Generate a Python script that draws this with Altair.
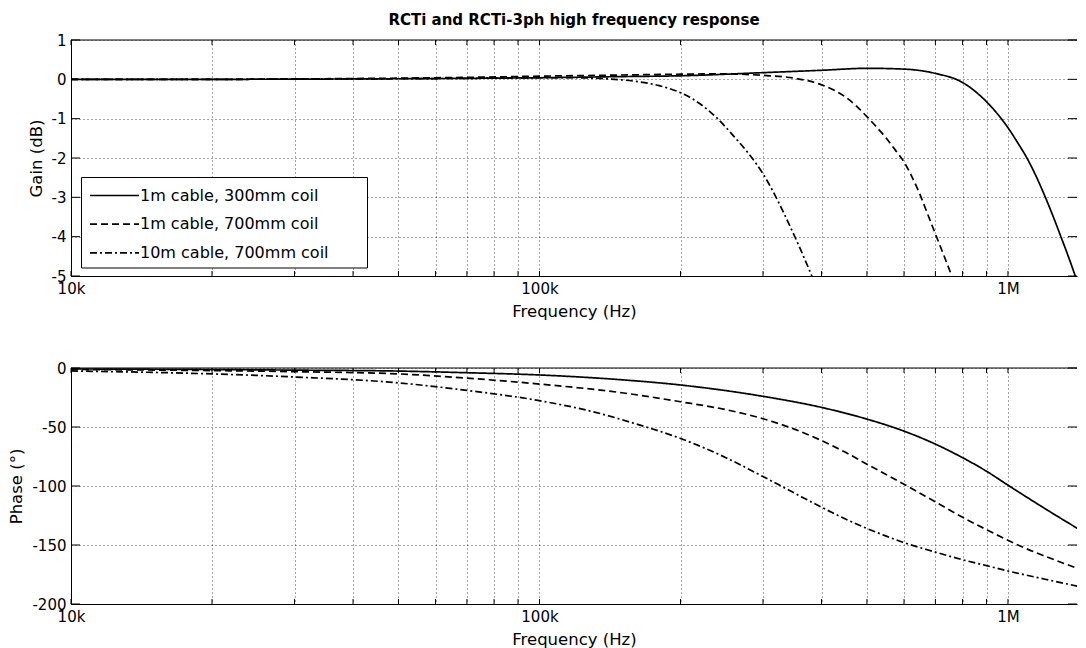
import altair as alt
import pandas as pd

TITLE = "RCTi and RCTi-3ph high frequency response"
SERIES = ["1m cable, 300mm coil", "1m cable, 700mm coil", "10m cable, 700mm coil"]
DASHES = [[1, 0], [7, 4], [7, 3, 2, 3]]

# ---- Gain (dB) ----
g1_f = [1e4, 2e4, 3e4, 5e4, 7e4, 1e5, 1.5e5, 2e5, 3e5, 4e5, 5e5, 6e5, 7e5, 8e5, 9e5,
        9.5e5, 1e6, 1.05e6, 1.1e6, 1.15e6, 1.2e6, 1.25e6, 1.3e6, 1.35e6, 1.394e6]
g1_db = [0, 0, 0.005, 0.015, 0.025, 0.04, 0.07, 0.09, 0.17, 0.23, 0.28, 0.26, 0.15, -0.08, -0.57,
         -0.88, -1.23, -1.62, -2.02, -2.48, -2.98, -3.5, -4.03, -4.55, -5.02]
g2_f = [1e4, 2e4, 3e4, 5e4, 7e4, 1e5, 1.5e5, 2e5, 2.5e5, 3e5, 3.5e5, 4e5, 4.5e5, 4.75e5, 5e5,
        5.25e5, 5.5e5, 5.75e5, 6e5, 6.25e5, 6.5e5, 6.75e5, 7e5, 7.3e5, 7.6e5]
g2_db = [0, 0, 0.01, 0.03, 0.05, 0.08, 0.11, 0.13, 0.14, 0.1, 0.03, -0.14, -0.45, -0.68, -0.95,
         -1.22, -1.5, -1.8, -2.1, -2.5, -2.95, -3.45, -3.93, -4.48, -5.02]
g3_f = [1e4, 2e4, 3e4, 5e4, 7e4, 1e5, 1.2e5, 1.4e5, 1.6e5, 1.8e5, 2e5, 2.2e5, 2.4e5, 2.6e5,
        2.8e5, 3e5, 3.2e5, 3.4e5, 3.6e5, 3.82e5]
g3_db = [0, 0, 0.005, 0.015, 0.025, 0.04, 0.04, 0.01, -0.05, -0.16, -0.34, -0.62, -1.0, -1.45,
         -1.9, -2.4, -3.0, -3.65, -4.3, -5.02]

# ---- Phase (deg) ----
p1_f = [1e4, 2e4, 3e4, 5e4, 7e4, 1e5, 1.5e5, 2e5, 3e5, 4e5, 5e5, 6e5, 7e5, 8e5, 9e5, 1e6,
        1.2e6, 1.47e6]
p1_deg = [-0.8, -1.3, -1.8, -2.6, -4.0, -5.9, -10.0, -14.4, -24.0, -33.4, -43.3, -53.5, -64.5,
          -76.0, -87.5, -99.3, -119.2, -140.5]
p2_f = [1e4, 2e4, 3e4, 5e4, 7e4, 1e5, 1.5e5, 2e5, 2.5e5, 3e5, 3.5e5, 4e5, 4.5e5, 5e5, 6e5,
        7e5, 8e5, 9e5, 1e6, 1.1e6, 1.2e6, 1.47e6]
p2_deg = [-1.2, -2.2, -3.1, -5.0, -8.6, -13.6, -21.0, -28.6, -35.3, -43.0, -51.8, -61.5, -71.5,
          -81.5, -98.5, -113.5, -126.5, -137.0, -146.0, -153.5, -159.5, -172.5]
p3_f = [1e4, 2e4, 3e4, 5e4, 7e4, 1e5, 1.3e5, 1.58e5, 2e5, 2.5e5, 3e5, 3.5e5, 4e5, 4.5e5, 5e5,
        5.5e5, 6e5, 7e5, 8e5, 9e5, 1e6, 1.2e6, 1.47e6]
p3_deg = [-2.5, -5.0, -7.6, -12.6, -19.0, -27.7, -37.0, -46.5, -59.7, -76.0, -92.0, -106.0,
          -118.0, -128.0, -136.0, -142.5, -148.0, -156.0, -162.5, -167.5, -172.0, -179.0, -186.5]

# ---- axes ----
X_DOMAIN = [1e4, 1.404e6]
GRID_X = [1e4, 2e4, 3e4, 4e4, 5e4, 6e4, 7e4, 8e4, 9e4,
          1e5, 2e5, 3e5, 4e5, 5e5, 6e5, 7e5, 8e5, 9e5, 1e6]
X_LABEL_VALUES = [1e4, 1e5, 1e6]
X_LABELS = ["10k", "100k", "1M"]
GAIN_DOMAIN = [-5, 1]
GAIN_TICKS = [-5, -4, -3, -2, -1, 0, 1]
PHASE_DOMAIN = [-200, 0]
PHASE_TICKS = [-200, -150, -100, -50, 0]

W = 1006
H = 236
FONT = "DejaVu Sans"


def series_frame(fs, vs):
    rows = []
    for name, f_list, v_list in zip(SERIES, fs, vs):
        for f, v in zip(f_list, v_list):
            rows.append({"f": f, "v": v, "series": name})
    return pd.DataFrame(rows)


gain_df = series_frame([g1_f, g2_f, g3_f], [g1_db, g2_db, g3_db])
phase_df = series_frame([p1_f, p2_f, p3_f], [p1_deg, p2_deg, p3_deg])

label_expr = ""
for val, lab in zip(X_LABEL_VALUES, X_LABELS):
    label_expr += f"datum.value == {int(val)} ? '{lab}' : "
label_expr += "''"


def panel(df, ydomain, yticks, ytitle, legend, title=None):
    xs = alt.Scale(type="log", domain=X_DOMAIN, nice=False)
    ys = alt.Scale(domain=ydomain, nice=False, zero=False)
    dash_scale = alt.Scale(domain=SERIES, range=DASHES)

    x_axis = alt.Axis(
        title="Frequency (Hz)", values=GRID_X, labelExpr=label_expr,
        grid=True, gridDash=[1, 3], gridColor="#000", gridOpacity=0.7, gridWidth=1,
        ticks=False, domain=True, domainColor="#000", domainWidth=1,
        labelFlush=False, labelOverlap=False, labelPadding=5, labelFontSize=15,
        labelColor="#000", labelFont=FONT,
        titlePadding=7, titleFontSize=16.5, titleFontWeight="normal", titleColor="#000",
        titleFont=FONT,
    )
    y_axis = alt.Axis(
        title=ytitle, values=yticks, labelExpr="'' + datum.value",
        grid=True, gridDash=[1, 3], gridColor="#000", gridOpacity=0.7, gridWidth=1,
        ticks=False, domain=True, domainColor="#000", domainWidth=1,
        labelPadding=5, labelFontSize=15, labelColor="#000", labelFont=FONT,
        labelFlush=False, labelOverlap=False,
        titlePadding=7, titleFontSize=16.5, titleFontWeight="normal", titleColor="#000",
        titleFont=FONT,
    )

    lines = alt.Chart(df).mark_line(
        color="black", strokeWidth=1.7, clip=True, interpolate="monotone"
    ).encode(
        x=alt.X("f:Q", scale=xs, axis=x_axis),
        y=alt.Y("v:Q", scale=ys, axis=y_axis),
        strokeDash=alt.StrokeDash("series:N", scale=dash_scale, legend=legend),
    )

    xt = pd.DataFrame({"f": GRID_X})
    yt = pd.DataFrame({"v": yticks})
    one = pd.DataFrame({"k": [0]})

    top_ticks = alt.Chart(xt).mark_rule(color="black", strokeWidth=1).encode(
        x=alt.X("f:Q", scale=xs, axis=x_axis), y=alt.value(0), y2=alt.value(5))
    bottom_ticks = alt.Chart(xt).mark_rule(color="black", strokeWidth=1).encode(
        x=alt.X("f:Q", scale=xs, axis=x_axis), y=alt.value(H - 5), y2=alt.value(H))
    left_ticks = alt.Chart(yt).mark_rule(color="black", strokeWidth=1).encode(
        y=alt.Y("v:Q", scale=ys, axis=y_axis), x=alt.value(0), x2=alt.value(9))
    right_ticks = alt.Chart(yt).mark_rule(color="black", strokeWidth=1).encode(
        y=alt.Y("v:Q", scale=ys, axis=y_axis), x=alt.value(W - 9), x2=alt.value(W))
    top_border = alt.Chart(one).mark_rule(color="black", strokeWidth=1).encode(
        x=alt.value(0), x2=alt.value(W), y=alt.value(0))

    layers = [lines, top_ticks, bottom_ticks, left_ticks, right_ticks, top_border]
    if legend is not None:
        box = alt.Chart(one).mark_rect(fill="white", stroke="black", strokeWidth=1).encode(
            x=alt.value(10.5), x2=alt.value(296.5), y=alt.value(137.5), y2=alt.value(228))
        layers.append(box)

    props = dict(width=W, height=H)
    if title is not None:
        props["title"] = title
    return alt.layer(*layers).properties(**props)


legend = alt.Legend(
    title=None, orient="none", legendX=18, legendY=147.5,
    symbolType="stroke", symbolSize=2401, symbolStrokeWidth=1.7,
    symbolStrokeColor="black", clipHeight=16,
    labelFontSize=16, labelFont=FONT, labelColor="black", labelOffset=0,
    labelLimit=400, rowPadding=12.7, padding=0,
)

title = alt.TitleParams(
    TITLE, font=FONT, fontSize=15, fontWeight="bold", color="black",
    anchor="middle", frame="group", offset=5,
)

top = panel(gain_df, GAIN_DOMAIN, GAIN_TICKS, "Gain (dB)", legend, title)
bottom = panel(phase_df, PHASE_DOMAIN, PHASE_TICKS, "Phase (°)", None)

chart = alt.vconcat(top, bottom, spacing=40).resolve_scale(
    strokeDash="independent"
).resolve_legend(
    strokeDash="independent"
).properties(
    padding={"left": 0, "top": 4, "right": 0, "bottom": 0}
).configure(
    font=FONT
).configure_view(
    stroke="transparent"
)

chart.save("out.html", embed_options={"renderer": "svg", "actions": False})
